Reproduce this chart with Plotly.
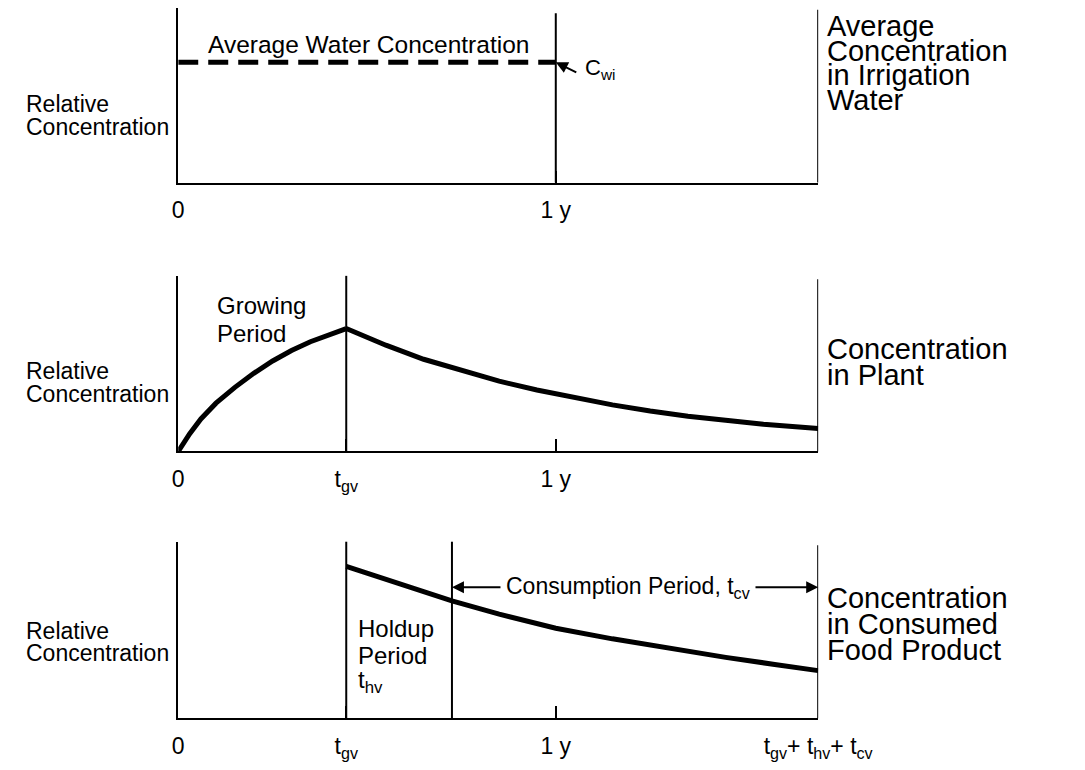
import plotly.graph_objects as go

# ---------------- data (time in years, relative concentration 0..1) ----------------
T_GV = 0.445                    # growing period
T_HV = 0.28                     # holdup period
T_CV = 0.97                     # consumption period
ONE_YEAR = 1.0
T_END = T_GV + T_HV + T_CV

WATER_LEVEL = 0.69              # average concentration in irrigation water

GROW_T = [0.0, 0.03, 0.06, 0.10, 0.15, 0.20, 0.25, 0.30, 0.35, 0.40, 0.445]
GROW_C = [0.0, 0.10, 0.185, 0.275, 0.365, 0.445, 0.515, 0.575, 0.625, 0.665, 0.70]

DECAY_T = [0.445, 0.55, 0.65, 0.75, 0.85, 0.95, 1.05, 1.15, 1.25, 1.35, 1.45, 1.55, 1.695]
DECAY_C = [0.70, 0.605, 0.525, 0.46, 0.40, 0.35, 0.305, 0.265, 0.23, 0.20, 0.178, 0.155, 0.13]

FOOD_T = [0.445, 0.55, 0.65, 0.725, 0.85, 1.0, 1.15, 1.30, 1.45, 1.58, 1.695]
FOOD_C = [0.86, 0.785, 0.715, 0.665, 0.59, 0.51, 0.45, 0.395, 0.345, 0.305, 0.27]

TICKS_1 = [0.0, ONE_YEAR]
TICKTEXT_1 = ["0", "1 y"]
TICKS_2 = [0.0, T_GV, ONE_YEAR]
TICKTEXT_2 = ["0", "t<sub>gv</sub>", "1 y"]
TICKS_3 = [0.0, T_GV, ONE_YEAR, T_END]
TICKTEXT_3 = ["0", "t<sub>gv</sub>", "1 y", "t<sub>gv</sub>+ t<sub>hv</sub>+ t<sub>cv</sub>"]

# ---------------- layout helpers (positions given in page pixels) ----------------
PAGE_W, PAGE_H = 1085, 770
BODY_MARGIN = 8
W, H = PAGE_W - 2 * BODY_MARGIN, PAGE_H - 2 * BODY_MARGIN
FONT = "Liberation Sans, Arial, Helvetica, sans-serif"
X_LEFT, X_RIGHT = 182, 860
PANELS = [(8, 184), (278, 455), (546, 724)]   # (top px, axis px)


def px(x):
    return (x - BODY_MARGIN) / W


def py(y):
    return 1 - (y - BODY_MARGIN) / H


def t_of_px(x):
    return (x - X_LEFT) / (X_RIGHT - X_LEFT) * T_END


fig = go.Figure()

fig.add_trace(go.Scatter(x=[0.0, ONE_YEAR], y=[WATER_LEVEL, WATER_LEVEL], mode="lines",
                         line=dict(color="black", width=5, dash="20px,10px"),
                         xaxis="x", yaxis="y", hoverinfo="skip"))
fig.add_trace(go.Scatter(x=GROW_T, y=GROW_C, mode="lines", line=dict(color="black", width=5),
                         xaxis="x2", yaxis="y2", hoverinfo="skip"))
fig.add_trace(go.Scatter(x=DECAY_T, y=DECAY_C, mode="lines", line=dict(color="black", width=5),
                         xaxis="x2", yaxis="y2", hoverinfo="skip"))
fig.add_trace(go.Scatter(x=FOOD_T, y=FOOD_C, mode="lines", line=dict(color="black", width=5),
                         xaxis="x3", yaxis="y3", hoverinfo="skip"))

axis_common = dict(range=[0, T_END], domain=[px(X_LEFT), px(X_RIGHT)], showgrid=False, zeroline=False,
                   showline=True, linecolor="black", linewidth=2, ticks="inside", ticklen=12,
                   tickwidth=2, tickcolor="black", ticklabelstandoff=6,
                   tickfont=dict(family=FONT, size=23, color="black"), fixedrange=True)
yaxis_common = dict(range=[0, 1], showgrid=False, zeroline=False, showline=True, linecolor="black",
                    linewidth=2, showticklabels=False, ticks="", fixedrange=True)

layout = dict(width=W, height=H, margin=dict(l=0, r=0, t=0, b=0), autosize=False,
              paper_bgcolor="white", plot_bgcolor="white", showlegend=False)

for i, ((top, bot), tv, tt) in enumerate(zip(PANELS, [TICKS_1, TICKS_2, TICKS_3],
                                              [TICKTEXT_1, TICKTEXT_2, TICKTEXT_3])):
    sfx = "" if i == 0 else str(i + 1)
    layout["xaxis" + sfx] = dict(axis_common, anchor="y" + sfx, tickvals=tv, ticktext=tt)
    layout["yaxis" + sfx] = dict(yaxis_common, anchor="x" + sfx,
                                 domain=[max(0.0, py(bot)), min(1.0, py(top))])

fig.update_layout(**layout)

line_style = dict(color="black", width=2)
vlines = [
    ("x", "y domain", ONE_YEAR, 0.97),
    ("x", "y domain", T_END, 0.99),
    ("x2", "y2 domain", T_GV, 1.0),
    ("x2", "y2 domain", T_END, 0.98),
    ("x3", "y3 domain", T_GV, 1.0),
    ("x3", "y3 domain", T_GV + T_HV, 1.0),
    ("x3", "y3 domain", T_END, 0.98),
]
for xr, yr, xv, top in vlines:
    fig.add_shape(type="line", xref=xr, yref=yr, x0=xv, x1=xv, y0=0, y1=top, line=line_style)

ann = []


def text(x, y, s, size, anchor="left"):
    ann.append(dict(x=px(x), y=py(y), xref="paper", yref="paper", text=s, showarrow=False,
                    xanchor=anchor, yanchor="middle", borderpad=0,
                    font=dict(family=FONT, size=size, color="black")))


for (y1, y2) in [(105, 128), (374, 397), (636, 658)]:
    text(20, y1, "Relative", 23)
    text(20, y2, "Concentration", 23)

for s, y in [("Average", 26), ("Concentration", 51), ("in Irrigation", 76), ("Water", 101),
             ("Concentration", 352), ("in Plant", 378),
             ("Concentration", 603), ("in Consumed", 629), ("Food Product", 655)]:
    text(868, y, s, 29)

text(384, 45, "Average Water Concentration", 24.5, "center")
text(612, 69, "C<sub>wi</sub>", 22)
text(222, 308, "Growing", 24)
text(222, 336, "Period", 24)
text(371, 633, "Holdup", 24)
text(371, 661, "Period", 24)
text(371, 687, "t<sub>hv</sub>", 24)

CONS_LEFT = 528
text(CONS_LEFT, 592, "Consumption Period, t<sub>cv</sub>", 23)

ann.append(dict(x=ONE_YEAR, y=WATER_LEVEL, xref="x", yref="y", ax=22, ay=11, text="",
                showarrow=True, arrowhead=2, arrowsize=1.2, arrowwidth=2, arrowcolor="black", standoff=0))

ARROW_Y = (PANELS[2][1] - 592) / (PANELS[2][1] - PANELS[2][0])
ann.append(dict(x=T_GV + T_HV, y=ARROW_Y, xref="x3", yref="y3", ax=t_of_px(CONS_LEFT - 3), ay=ARROW_Y,
                axref="x3", ayref="y3", text="", showarrow=True, arrowhead=2, arrowsize=1.2,
                arrowwidth=2, arrowcolor="black", standoff=0))
ann.append(dict(x=T_END, y=ARROW_Y, xref="x3", yref="y3", ax=t_of_px(792), ay=ARROW_Y,
                axref="x3", ayref="y3", text="", showarrow=True, arrowhead=2, arrowsize=1.2,
                arrowwidth=2, arrowcolor="black", standoff=0))

fig.update_layout(annotations=ann)
fig.write_html("out.html")
